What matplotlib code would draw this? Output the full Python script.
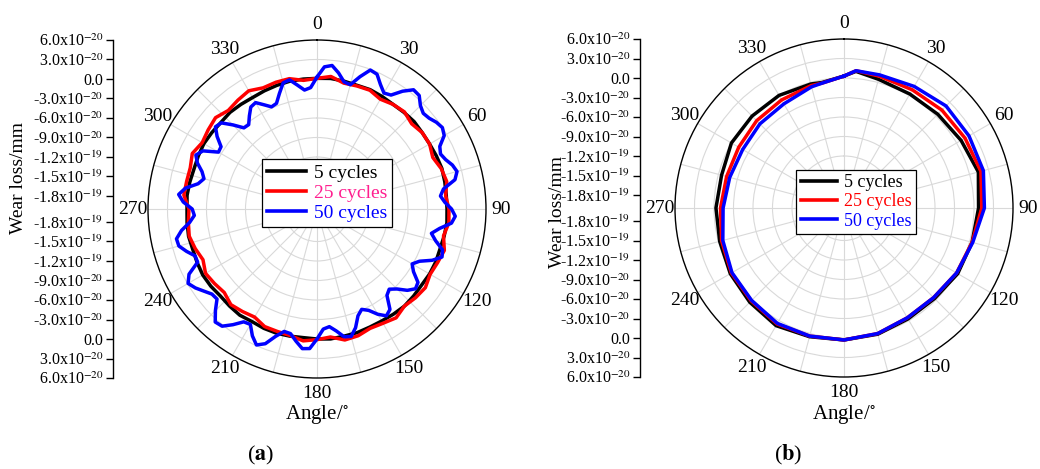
import numpy as np
import matplotlib
matplotlib.use("Agg")
import matplotlib.pyplot as plt
from matplotlib.lines import Line2D

plt.rcParams["font.family"] = ["Liberation Serif", "DejaVu Serif"]
plt.rcParams["mathtext.fontset"] = "stix"
plt.rcParams["axes.unicode_minus"] = False

# Wear loss values in units of 1e-20 mm, angles in degrees.
r_min, r_max = -20, 6
tick_values = [6, 3, 0, -3, -6, -9, -12, -15, -18]
major_angles = [0, 30, 60, 90, 120, 150, 180, 210, 240, 270, 300, 330]
minor_angles = [15, 45, 75, 105, 135, 165, 195, 225, 255, 285, 315, 345]
labels = ["5 cycles", "25 cycles", "50 cycles"]

# (a) sampled every 6 deg (5 / 25 cycles) and every 3 deg (50 cycles)
angle_a_coarse = np.arange(0, 360, 6)
angle_a_fine = np.arange(0, 360, 3)
a_5 = [0.1, 0.2, 0.1, 0.0, 0.1, 0.0, -0.1, 0.0, 0.1, 0.0, 0.0, 0.1, 0.2, 0.1, 0.0,
       0.0, 0.1, 0.0, -0.1, 0.0, 0.0, -0.1, 0.0, 0.1, 0.0, -0.1, -0.1, 0.0, 0.0, 0.1,
       0.0, -0.1, 0.0, 0.1, 0.1, 0.0, 0.2, 0.1, 0.0, 0.2, 0.3, 0.2, 0.1, 0.2, 0.1,
       0.0, 0.1, 0.0, -0.1, 0.0, 0.1, 0.0, -0.1, 0.0, -0.1, -0.2, -0.1, 0.0, 0.1, 0.1]
a_25 = [0.1, 0.5, -0.2, -0.1, 0.0, -0.5, -0.1, 0.1, -0.4, 0.0, 0.0, -0.5, 0.1, 0.4, -0.1,
        0.3, 0.4, -0.1, 0.6, 0.3, 0.1, 0.6, 0.4, 0.1, 0.7, 0.3, 0.1, 0.5, 0.6, -0.2,
        0.1, 0.4, -0.1, -0.2, -0.2, -0.8, -0.5, -0.2, -0.8, -0.5, -0.2, -0.8, -0.3, 0.1, -0.1,
        -0.3, 0.6, 0.5, 0.5, 1.0, 0.4, 0.7, 1.0, 0.4, 0.7, 1.0, 0.4, 0.5, 0.5, -0.1]
a_50 = [0.3, 1.9, 2.2, 1.2, 0.0, -0.2, 1.4, 2.9, 2.7, 1.5, 0.6, 0.9, 2.4, 3.6, 3.5,
        2.5, 2.0, 2.2, 2.7, 3.0, 2.6, 1.2, 0.8, 1.2, 1.9, 2.3, 1.7, -0.3, -0.9, -0.3,
        0.7, 1.3, 0.8, -0.9, -2.0, -1.1, 0.3, 0.6, -0.6, -2.3, -3.1, -2.3, -0.8, -0.5, -1.3,
        -2.6, -3.4, -2.9, -0.9, -0.4, -1.3, -2.5, -3.1, -2.4, -0.8, 0.3, 0.1, -1.0, -1.8, -1.5,
        0.0, 1.5, 1.6, 0.6, -0.4, -0.5, 0.6, 2.2, 2.9, 1.9, 0.5, 0.7, 2.0, 3.2, 3.4,
        2.1, 0.7, 0.8, 1.5, 2.3, 2.9, 2.1, 0.1, 0.1, 1.1, 2.0, 2.1, 1.1, -0.3, -1.1,
        -0.8, 0.6, 1.4, 0.5, -1.3, -2.0, -1.4, -0.3, 0.4, -0.3, -2.5, -2.4, -1.0, 0.1, -0.2,
        -1.7, -3.2, -3.3, -2.3, -1.3, -1.1, -2.0, -2.8, -2.6, -1.3, 0.1, 0.3, -0.7, -1.6, -1.3]

# (b)
angle_b = [0, 5, 15, 30, 45, 60, 75, 90, 105, 120, 135, 150, 165, 180,
           195, 210, 225, 240, 255, 270, 285, 300, 315, 330, 345, 350]
b_5 = [0.3, 1.1, 0.5, 0.25, 0.4, 0.8, 1.4, 0.7, 0.4, 0.2, -0.3, -0.3, 0.1, 0.3,
       0.5, 0.9, 0.5, 0.2, -0.2, -0.3, -0.5, 0.0, 0.0, 0.0, -0.25, -0.4]
b_25 = [0.3, 1.2, 1.0, 1.0, 1.3, 1.5, 1.8, 1.2, 0.4, 0.0, -0.5, -0.5, 0.0, 0.3,
        0.4, 0.6, 0.2, 0.0, -0.5, -1.0, -1.3, -1.3, -1.0, -0.8, -0.5, -0.5]
b_50 = [0.3, 1.2, 1.2, 1.6, 2.2, 2.2, 2.2, 1.6, 0.5, 0.0, -0.5, -0.5, 0.0, 0.3,
        0.4, 0.5, 0.1, -0.1, -0.7, -1.4, -1.8, -2.0, -1.7, -1.5, -0.7, -0.5]

line_colors = ["#000000", "#ff0000", "#0000ff"]

W, H = 1040, 469
fig = plt.figure(figsize=(W / 100, H / 100), dpi=100)


def closed(angles, values):
    th = np.deg2rad(np.append(angles, angles[0]))
    return th, np.append(values, values[0])


def tick_label(v):
    if v == 0:
        return "0.0"
    if abs(v) >= 10:
        return "%.1fx10$^{-19}$" % (v / 10.0)
    return "%.1fx10$^{-20}$" % v


def setup_polar(ax):
    ax.set_theta_zero_location("N")
    ax.set_theta_direction(-1)
    ax.set_ylim(r_min, r_max)
    ax.set_yticks([v for v in tick_values if v < r_max])
    ax.set_yticklabels([])
    ax.tick_params(axis="y", length=0)
    ax.set_xticks(np.deg2rad(major_angles))
    ax.set_xticklabels([str(a) for a in major_angles], fontsize=14)
    ax.set_xticks(np.deg2rad(minor_angles), minor=True)
    ax.xaxis.grid(True, which="both", color="#d9d9d9", linewidth=0.8)
    ax.yaxis.grid(True, color="#d9d9d9", linewidth=0.8)
    ax.tick_params(axis="x", which="both", direction="in", length=5, width=0.9, pad=4)
    ax.spines["polar"].set_linewidth(1.0)


def wear_axis(x_px, bottom, height):
    ax = fig.add_axes([x_px / W, bottom, 0.0001, height])
    ax.set_ylim(-(r_max - r_min), r_max - r_min)
    for side in ["right", "top", "bottom"]:
        ax.spines[side].set_visible(False)
    ax.spines["left"].set_linewidth(1.0)
    ax.set_xticks([])
    pos = [v - r_min for v in tick_values] + [-(v - r_min) for v in tick_values]
    ax.set_yticks(pos)
    ax.set_yticklabels([tick_label(v) for v in tick_values] * 2, fontsize=11.5)
    ax.tick_params(axis="y", direction="out", length=5, width=1.0, pad=2)
    ax.patch.set_visible(False)
    return ax


size_w, size_h = 338 / W, 338 / H
panels = [
    dict(cx=317, cy=209, axis_x=113, label_x=19, label_y=178, tag="a",
         data=[(angle_a_coarse, a_5), (angle_a_coarse, a_25), (angle_a_fine, a_50)],
         text_colors=["#000000", "#ff1f8f", "#0000ff"], leg=(327, 193), leg_fs=14),
    dict(cx=844, cy=208, axis_x=640, label_x=557, label_y=212, tag="b",
         data=[(angle_b, b_5), (angle_b, b_25), (angle_b, b_50)],
         text_colors=["#000000", "#ff0000", "#0000ff"], leg=(856, 202), leg_fs=13),
]

for p in panels:
    bottom = 1 - (p["cy"] + 169) / H
    ax = fig.add_axes([(p["cx"] - 169) / W, bottom, size_w, size_h], projection="polar")
    setup_polar(ax)
    for (ang, vals), col in zip(p["data"], line_colors):
        th, r = closed(ang, vals)
        ax.plot(th, r, color=col, linewidth=2.5, solid_joinstyle="round")
    wear_axis(p["axis_x"], bottom, size_h)

    handles = [Line2D([], [], color=c, linewidth=2.6) for c in line_colors]
    leg = ax.legend(handles, labels, loc="center",
                    bbox_to_anchor=(p["leg"][0] / W, 1 - p["leg"][1] / H),
                    bbox_transform=fig.transFigure, fontsize=p["leg_fs"],
                    frameon=True, fancybox=False, framealpha=1, edgecolor="black",
                    handlelength=2.0, handletextpad=0.4, labelspacing=0.12,
                    borderpad=0.25, borderaxespad=0)
    leg.get_frame().set_linewidth(0.9)
    for t, c in zip(leg.get_texts(), p["text_colors"]):
        t.set_color(c)

    fig.text(p["label_x"] / W, 1 - p["label_y"] / H, "Wear loss/mm", rotation=90,
             ha="center", va="center", fontsize=14)
    fig.text(p["cx"] / W, 1 - 414 / H, "Angle/$^{\\circ}$", ha="center", va="center",
             fontsize=15)
    fig.text((p["cx"] - 56) / W, 1 - 455 / H, "(" + "$\\mathbf{%s}$" % p["tag"] + ")",
             ha="center", va="center", fontsize=16)

fig.savefig("out.png", dpi=100)
